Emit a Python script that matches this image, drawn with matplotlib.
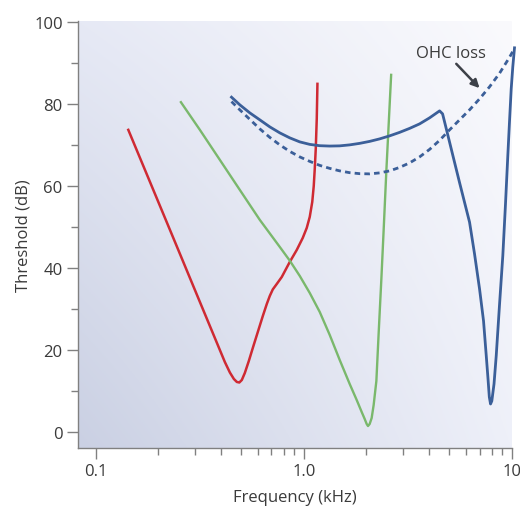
import numpy as np
import matplotlib
matplotlib.use("Agg")
import matplotlib.pyplot as plt
from matplotlib.ticker import FixedLocator, NullFormatter

plt.rcParams['font.family'] = ['Open Sans', 'DejaVu Sans']
plt.rcParams['lines.scale_dashes'] = False

# --- data (kHz, dB) ---
red_f = [0.1437, 0.2451, 0.3171, 0.3742, 0.4179, 0.4418, 0.4617, 0.4772,
         0.4905, 0.5042, 0.5212, 0.5448, 0.5712, 0.6017, 0.6360, 0.6646, 0.6869,
         0.7100, 0.7422, 0.7843, 0.8567, 0.9257, 0.9890, 1.0337, 1.0685, 1.0986,
         1.1169, 1.1293, 1.1419, 1.1546, 1.1634]
red_db = [73.66, 45.39, 31.71, 22.93, 17.07, 14.51, 12.93, 12.20,
          12.07, 12.68, 14.39, 17.32, 20.73, 24.39, 28.29, 31.22, 33.17,
          34.76, 36.10, 37.80, 41.46, 44.39, 47.32, 49.76, 52.44, 56.10,
          60.00, 64.15, 69.02, 76.34, 84.88]

green_f = [0.2571, 0.3171, 0.3955, 0.4932, 0.6152, 0.7671, 0.8567, 0.9568, 1.0685,
           1.1932, 1.3327, 1.4883, 1.6619, 1.7958, 1.8977, 1.9617, 2.0055, 2.0344,
           2.0725, 2.1188, 2.1661, 2.2319, 2.2892, 2.3588, 2.4193, 2.4924,
           2.6284]
green_db = [80.41, 73.66, 66.34, 59.02, 51.71, 45.12, 41.78, 38.05, 33.90,
            29.27, 23.66, 17.56, 11.71, 7.80, 4.88, 3.17, 1.95, 1.46,
            1.95, 3.41, 6.59, 12.44, 24.10, 37.32, 49.27, 63.66,
            87.07]

blue_f = [0.4498, 0.4932, 0.5508, 0.6152, 0.6869, 0.7671, 0.8567, 0.9568, 1.0685,
          1.1932, 1.3327, 1.4883, 1.6619, 1.8562, 2.0725, 2.3146, 2.5853, 2.8864,
          3.2239, 3.6008, 4.0206, 4.4906, 4.6416, 4.7989, 5.2014, 5.6000, 6.2545,
          6.6087, 6.9850, 7.2997, 7.5221, 7.6712, 7.7817, 7.8878, 8.0000, 8.1970,
          8.4000, 8.7096, 9.0345, 9.3060, 9.5482, 9.7270, 9.9126, 10.088, 10.280]
blue_db = [81.63, 79.76, 77.80, 76.10, 74.39, 72.93, 71.71, 70.73, 70.12,
           69.80, 69.71, 69.76, 70.00, 70.37, 70.85, 71.46, 72.20, 73.05,
           74.02, 75.12, 76.59, 78.29, 77.56, 74.60, 67.39, 60.80, 51.15,
           43.41, 34.88, 27.07, 18.61, 12.93, 8.54, 6.83, 7.56, 11.71,
           18.61, 30.98, 43.00, 55.61, 67.39, 75.61, 83.66, 89.02, 93.66]

ohc_f = [0.4498, 0.4932, 0.5508, 0.6152, 0.6869, 0.7671, 0.8567, 0.9568, 1.0685,
         1.1932, 1.3327, 1.4883, 1.6619, 1.8562, 2.0725, 2.3146, 2.5853, 2.8864,
         3.2239, 3.6008, 4.0206, 4.4906, 5.0142, 5.6000, 6.2545, 6.9850, 7.8000,
         8.7096, 9.7270, 10.280]
ohc_db = [80.56, 78.54, 76.22, 73.90, 71.83, 70.00, 68.41, 67.07, 65.98,
          65.00, 64.27, 63.66, 63.22, 62.98, 62.93, 63.17, 63.66, 64.51,
          65.61, 67.07, 68.90, 71.10, 73.66, 76.10, 78.54, 81.22, 84.15,
          87.44, 91.34, 93.54]

label_text = 'OHC loss'
label_pos = (5.11, 92.4)
arrow_tail = (5.40, 89.76)
arrow_head = (6.985, 83.83)

x_ticks = [0.1, 1.0, 10]
x_tick_labels = ['0.1', '1.0', '10']
x_minor = [0.2, 0.3, 0.4, 0.5, 0.6, 0.7, 0.8, 0.9, 2, 3, 4, 5, 6, 7, 8, 9]
y_ticks = [0, 20, 40, 60, 80, 100]
y_minor = [10, 30, 50, 70, 90]

fig = plt.figure(figsize=(5.2, 5.1), dpi=100)
ax = fig.add_axes([78/520, 61/510, 434/520, 427/510])

ax.set_xscale('log')
ax.set_xlim(0.0824, 10.0)
ax.set_ylim(-3.9, 100.2)

# background gradient (axes coordinates)
n = 200
u = np.linspace(0, 1, n)[None, :]
v = np.linspace(0, 1, n)[:, None]
BL = np.array([202, 208, 227]) / 255
TL = np.array([230, 233, 245]) / 255
BR = np.array([238, 240, 249]) / 255
TR = np.array([250, 250, 253]) / 255
img = (((1-u)*(1-v))[..., None]*BL + ((1-u)*v)[..., None]*TL
       + (u*(1-v))[..., None]*BR + (u*v)[..., None]*TR)
ax.imshow(img, extent=[0, 1, 0, 1], transform=ax.transAxes, origin='lower',
          aspect='auto', zorder=0)

red = '#cf2a33'
green = '#7ab86c'
blue = '#3b5f99'

ax.plot(red_f, red_db, color=red, lw=1.8, zorder=3, solid_joinstyle='round')
ax.plot(green_f, green_db, color=green, lw=1.7, zorder=3, solid_joinstyle='round')
ax.plot(blue_f, blue_db, color=blue, lw=2.0, zorder=4, clip_on=False,
        solid_joinstyle='round')
ax.plot(ohc_f, ohc_db, color=blue, lw=2.0, zorder=4, clip_on=False,
        linestyle=(0, (4.0, 3.0)))

ax.text(label_pos[0], label_pos[1], label_text, ha='center', va='center',
        fontsize=12, color='#3a3a3a')
ax.annotate('', xy=arrow_head, xytext=arrow_tail,
            arrowprops=dict(arrowstyle='-|>', color='#3d4148', lw=1.8,
                            mutation_scale=12, shrinkA=0, shrinkB=0))

for s in ['top', 'right']:
    ax.spines[s].set_visible(False)
for s in ['left', 'bottom']:
    ax.spines[s].set_color('#808080')
    ax.spines[s].set_linewidth(1.0)

ax.xaxis.set_major_locator(FixedLocator(x_ticks))
ax.set_xticklabels(x_tick_labels)
ax.xaxis.set_minor_locator(FixedLocator(x_minor))
ax.xaxis.set_minor_formatter(NullFormatter())
ax.set_yticks(y_ticks)
ax.set_yticks(y_minor, minor=True)

ax.tick_params(which='major', direction='out', length=8, width=1.0, color='#808080',
               labelsize=12, labelcolor='#3a3a3a', pad=3)
ax.tick_params(which='minor', direction='out', length=5, width=1.0, color='#808080')

ax.set_xlabel('Frequency (kHz)', fontsize=12, color='#3a3a3a', labelpad=7)
ax.set_ylabel('Threshold (dB)', fontsize=12, color='#3a3a3a', labelpad=2)

fig.savefig('out.png', dpi=100)
